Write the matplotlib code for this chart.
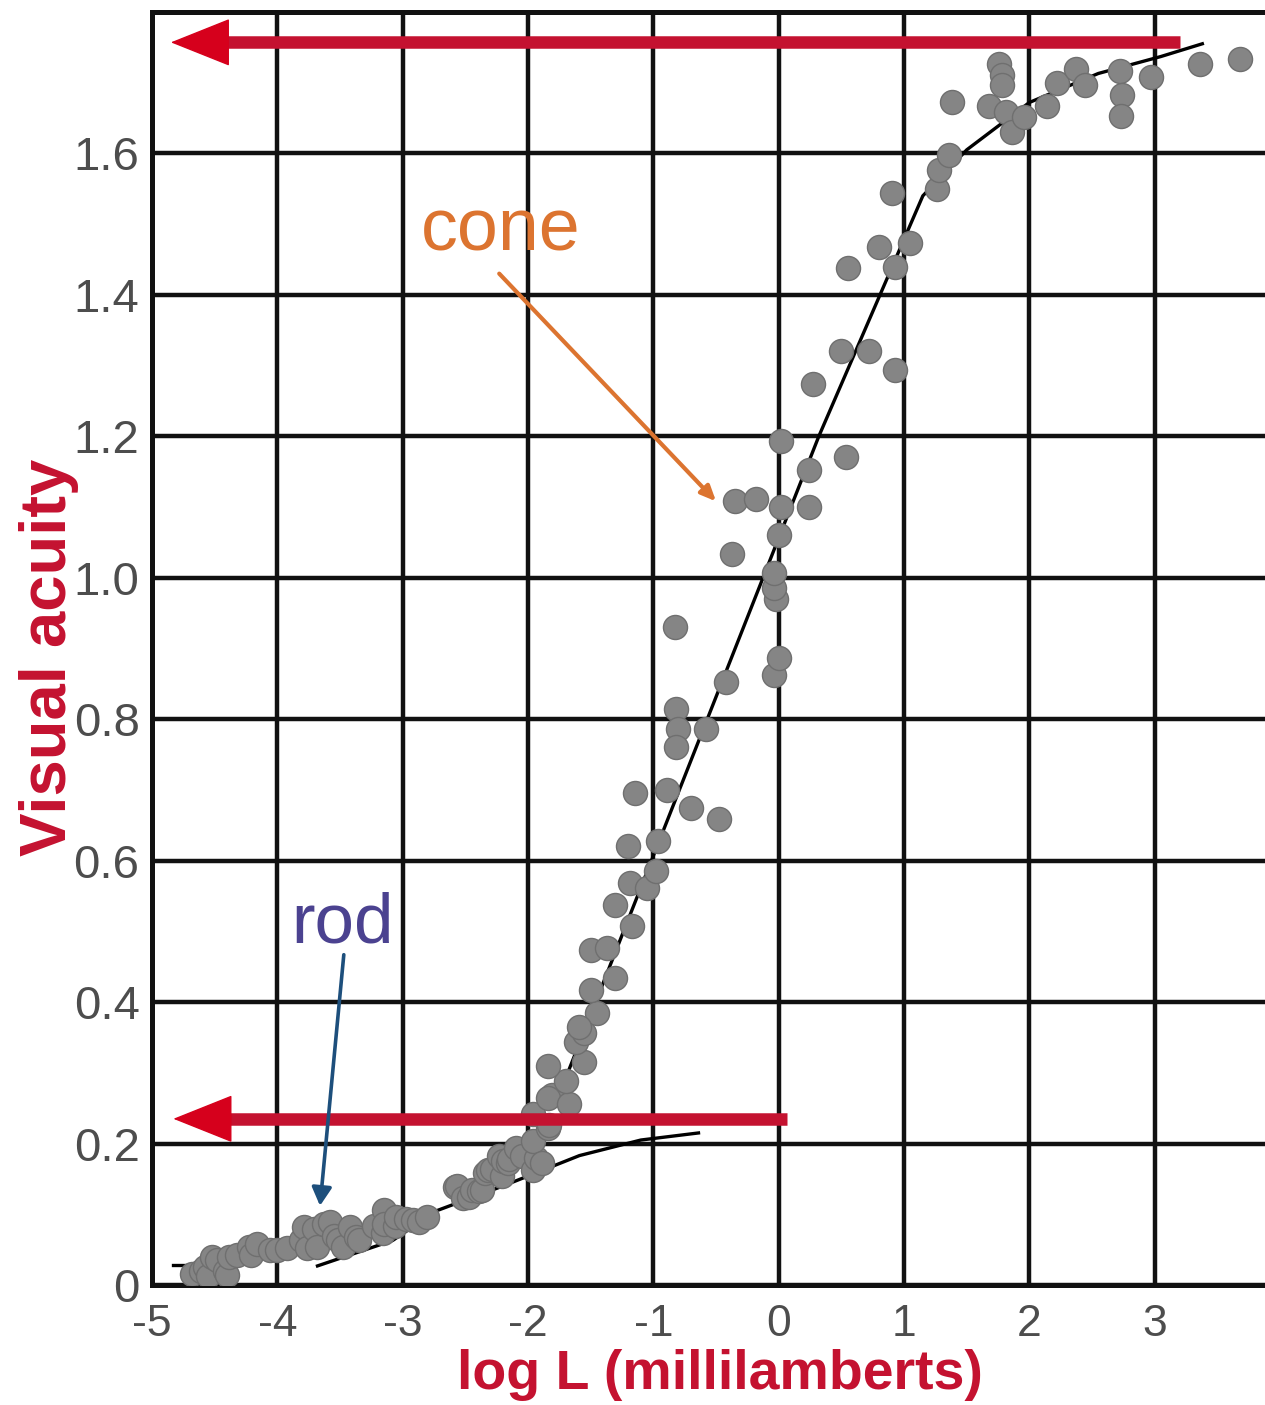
import matplotlib
matplotlib.use('Agg')
import matplotlib.pyplot as plt

plt.rcParams['font.family'] = ['Liberation Sans', 'DejaVu Sans']
plt.rcParams['axes.unicode_minus'] = False

# ---- data ----
log_L = [
    # rod branch
    -4.68, -4.61, -4.58, -4.55, -4.52, -4.48, -4.42, -4.40, -4.39, -4.32,
    -4.23, -4.21, -4.16, -4.06, -4.00, -3.92, -3.81, -3.79, -3.76, -3.71,
    -3.68, -3.63, -3.58, -3.55, -3.52, -3.48, -3.42, -3.37, -3.35, -3.23,
    -3.16, -3.15, -3.15, -3.06, -3.05, -2.97, -2.92, -2.87, -2.81, -2.58,
    -2.57, -2.52, -2.47, -2.45, -2.39, -2.37, -2.34, -2.32, -2.29, -2.23,
    -2.21, -2.20, -2.16, -2.15, -2.10, -2.05,
    # transition / steep cone branch
    -1.96, -1.94, -1.96, -1.89, -1.84, -1.96, -1.83, -1.81, -1.84, -1.67,
    -1.70, -1.84, -1.55, -1.62, -1.55, -1.45, -1.59, -1.50, -1.31, -1.50,
    -1.37, -1.17, -1.31, -1.19, -1.05, -0.98, -1.20, -0.96, -1.15, -0.89,
    -0.70, -0.48, -0.82, -0.80, -0.58, -0.82, -0.42, -0.83,
    -0.04, 0.00, -0.02, -0.04, -0.04, 0.00, -0.37, -0.35, -0.18, 0.02,
    0.24, 0.24, 0.54, 0.02,
    # upper cone branch
    0.27, 0.50, 0.72, 0.93, 0.55, 0.93, 0.80, 1.05, 0.90, 1.26,
    1.28, 1.36, 1.38, 1.68, 1.81, 1.86, 1.96, 1.76, 1.78, 1.78,
    2.14, 2.22, 2.37, 2.44, 2.72, 2.74, 2.73, 2.97, 3.36, 3.68,
]
acuity = [
    0.015, 0.020, 0.025, 0.013, 0.040, 0.036, 0.020, 0.014, 0.040, 0.043,
    0.054, 0.043, 0.058, 0.049, 0.049, 0.053, 0.064, 0.082, 0.053, 0.079,
    0.054, 0.086, 0.089, 0.069, 0.063, 0.054, 0.082, 0.068, 0.064, 0.084,
    0.074, 0.106, 0.086, 0.084, 0.096, 0.094, 0.092, 0.089, 0.096, 0.138,
    0.140, 0.123, 0.125, 0.134, 0.133, 0.135, 0.158, 0.163, 0.164, 0.183,
    0.154, 0.176, 0.173, 0.178, 0.194, 0.183,
    0.162, 0.180, 0.204, 0.173, 0.222, 0.242, 0.226, 0.269, 0.265, 0.256,
    0.289, 0.310, 0.315, 0.343, 0.357, 0.385, 0.365, 0.417, 0.434, 0.473,
    0.476, 0.508, 0.537, 0.568, 0.562, 0.586, 0.621, 0.628, 0.696, 0.700,
    0.675, 0.659, 0.814, 0.786, 0.786, 0.761, 0.853, 0.931,
    0.863, 0.887, 0.970, 0.986, 1.007, 1.060, 1.034, 1.108, 1.112, 1.100,
    1.100, 1.153, 1.171, 1.193,
    1.274, 1.320, 1.320, 1.294, 1.438, 1.440, 1.468, 1.473, 1.544, 1.549,
    1.577, 1.598, 1.672, 1.667, 1.658, 1.630, 1.651, 1.727, 1.711, 1.697,
    1.667, 1.700, 1.720, 1.697, 1.716, 1.683, 1.653, 1.708, 1.727, 1.734,
]

cone_fit_x = [-1.75, 0.32, 1.15, 1.50, 2.00, 2.55, 3.05, 3.38]
cone_fit_y = [0.27, 1.20, 1.54, 1.605, 1.672, 1.713, 1.737, 1.755]

rod_fit_x = [-3.68, -3.08, -2.73, -2.20, -1.59, -1.10, -0.64]
rod_fit_y = [0.027, 0.063, 0.105, 0.140, 0.183, 0.205, 0.215]
rod_stub_x = [-4.83, -4.72]
rod_stub_y = [0.029, 0.029]

x_ticks = [-5, -4, -3, -2, -1, 0, 1, 2, 3]
x_tick_labels = ['-5', '-4', '-3', '-2', '-1', '0', '1', '2', '3']
y_ticks = [0, 0.2, 0.4, 0.6, 0.8, 1.0, 1.2, 1.4, 1.6]
y_tick_labels = ['0', '0.2', '0.4', '0.6', '0.8', '1.0', '1.2', '1.4', '1.6']

# annotation anchors (data units)
upper_arrow = dict(y=1.757, tail=3.20, tip=-4.85)
lower_arrow = dict(y=0.235, tail=0.07, tip=-4.83)
cone_label = dict(x=-2.22, y=1.463)
cone_arrow = dict(start=(-2.23, 1.43), tip=(-0.50, 1.108))
rod_label = dict(x=-3.48, y=0.484)
rod_arrow = dict(start=(-3.47, 0.467), tip=(-3.66, 0.112))

RED = '#c41230'
RED_HEAD = '#d6001c'
ORANGE = '#dc7430'
ROD_TXT = '#4b4290'
ROD_ARROW = '#1d4f7c'
TICK_GRAY = '#4d4d4d'

# ---- figure ----
fig = plt.figure(figsize=(12.65, 14.05), dpi=100)
ax = fig.add_axes([0.1202, 0.0854, 0.8798, 0.9061])
ax.set_xlim(-5, 3.88)
ax.set_ylim(0, 1.8)

ax.set_xticks(x_ticks)
ax.set_xticklabels(x_tick_labels)
ax.set_yticks(y_ticks)
ax.set_yticklabels(y_tick_labels)
ax.tick_params(axis='both', length=0, colors=TICK_GRAY)
ax.tick_params(axis='x', labelsize=32, pad=14)
ax.tick_params(axis='y', labelsize=34, pad=9)

ax.grid(True, color='#111111', linewidth=3.2, zorder=1)
ax.set_axisbelow(True)
for side in ['left', 'bottom', 'top']:
    ax.spines[side].set_color('#111111')
    ax.spines[side].set_linewidth(3.6)
ax.spines['right'].set_visible(False)

# fit lines (under the points)
ax.plot(cone_fit_x, cone_fit_y, color='black', lw=2.4, zorder=2)
ax.plot(rod_fit_x, rod_fit_y, color='black', lw=2.4, zorder=2)
ax.plot(rod_stub_x, rod_stub_y, color='black', lw=2.4, zorder=2)

# data points
ax.scatter(log_L, acuity, s=300, c='#858585', edgecolors='#6f6f6f',
           linewidths=1.0, zorder=3)

# red arrows
HEAD_LEN_DATA = 0.45
for arr in (upper_arrow, lower_arrow):
    base = arr['tip'] + HEAD_LEN_DATA
    ax.plot([arr['tail'], base], [arr['y'], arr['y']], color=RED, lw=9,
            solid_capstyle='butt', zorder=5)
    ax.annotate('', xy=(arr['tip'], arr['y']), xytext=(base - 0.02, arr['y']),
                arrowprops=dict(arrowstyle='-|>,head_length=40,head_width=16',
                                mutation_scale=1, color=RED_HEAD, lw=1,
                                shrinkA=0, shrinkB=0),
                zorder=6)

# cone annotation
ax.text(cone_label['x'], cone_label['y'], 'cone', color=ORANGE, fontsize=53,
        ha='center', va='baseline', zorder=7)
ax.annotate('', xy=cone_arrow['tip'], xytext=cone_arrow['start'],
            arrowprops=dict(arrowstyle='-|>,head_length=9,head_width=4',
                            mutation_scale=1, color=ORANGE, lw=3,
                            shrinkA=0, shrinkB=0),
            zorder=7)

# rod annotation
ax.text(rod_label['x'], rod_label['y'], 'rod', color=ROD_TXT, fontsize=51,
        ha='center', va='baseline', zorder=7)
ax.annotate('', xy=rod_arrow['tip'], xytext=rod_arrow['start'],
            arrowprops=dict(arrowstyle='-|>,head_length=11,head_width=6',
                            mutation_scale=1, color=ROD_ARROW, lw=2.6,
                            shrinkA=0, shrinkB=0),
            zorder=7)

# axis labels
ax.set_ylabel('Visual acuity', color=RED, fontsize=47, fontweight='bold',
              va='center')
ax.yaxis.set_label_coords(-0.093, 0.493)
ax.set_xlabel('log L (millilamberts)', color=RED, fontsize=40,
              fontweight='bold', va='center')
ax.xaxis.set_label_coords(0.51, -0.071)

fig.savefig('out.png', dpi=100)
